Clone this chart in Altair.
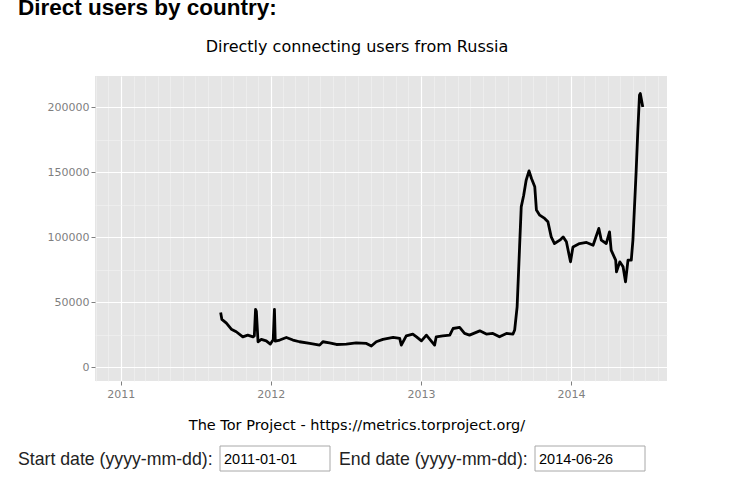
import altair as alt
import pandas as pd

# ---- text content ----
heading = "Direct users by country:"
title_text = "Directly connecting users from Russia"
caption = "The Tor Project - https://metrics.torproject.org/"
start_label = "Start date (yyyy-mm-dd):"
end_label = "End date (yyyy-mm-dd):"
start_value = "2011-01-01"
end_value = "2014-06-26"

# ---- series ----
dates = ["2011-09-01","2011-09-04","2011-09-15","2011-09-27","2011-10-09","2011-10-25",
         "2011-11-06","2011-11-19","2011-11-22","2011-11-25","2011-11-27","2011-12-01",
         "2011-12-09","2011-12-21","2011-12-31","2012-01-07","2012-01-10","2012-01-12",
         "2012-01-23","2012-02-08","2012-02-24","2012-03-11","2012-04-05","2012-04-29",
         "2012-05-07","2012-05-23","2012-06-09","2012-07-03","2012-07-27","2012-08-21",
         "2012-09-02","2012-09-14","2012-09-30","2012-10-25","2012-11-10","2012-11-14",
         "2012-11-26","2012-12-12","2012-12-21","2013-01-02","2013-01-14","2013-02-03",
         "2013-02-07","2013-02-23","2013-03-12","2013-03-20","2013-04-05","2013-04-17",
         "2013-04-29","2013-05-24","2013-06-09","2013-06-25","2013-07-11","2013-07-28",
         "2013-08-13","2013-08-17","2013-08-23","2013-08-29","2013-09-02","2013-09-08",
         "2013-09-14","2013-09-21","2013-09-27","2013-10-05","2013-10-09","2013-10-17",
         "2013-10-29","2013-11-06","2013-11-14","2013-11-22","2013-12-05","2013-12-13",
         "2013-12-21","2013-12-31","2014-01-06","2014-01-22","2014-02-08","2014-02-24",
         "2014-03-10","2014-03-16","2014-03-28","2014-04-05","2014-04-09","2014-04-20",
         "2014-04-22","2014-04-30","2014-05-08","2014-05-14","2014-05-20","2014-05-28",
         "2014-06-01","2014-06-09","2014-06-13","2014-06-17","2014-06-19","2014-06-25"]
users = [42000, 36700, 33800, 29200, 27200, 23300,
         24600, 23300, 24000, 44400, 43000, 19500,
         21300, 20200, 17700, 21000, 44400, 20000,
         20800, 22800, 20800, 19500, 18200, 16900,
         19500, 18700, 17400, 17700, 18700, 18200,
         16200, 19500, 21300, 22800, 22100, 16900,
         24000, 25400, 23300, 20200, 24600, 16900,
         23300, 24000, 24600, 29700, 30500, 25900,
         24600, 27900, 25400, 25900, 23300, 25900,
         25400, 28500, 46400, 92500, 123300, 132300,
         143800, 151000, 145100, 138700, 120800, 116900,
         114400, 111800, 100200, 95100, 97700, 100200,
         96400, 81000, 92500, 95100, 95900, 93800,
         106700, 97700, 95100, 104100, 90000, 82300,
         73300, 81000, 77200, 65600, 82300, 82300,
         97700, 151500, 182300, 209200, 210500, 200200]

# ---- axes ----
year_ticks = [2011, 2012, 2013, 2014]
y_ticks = [0, 50000, 100000, 150000, 200000]
y_minor = [25000, 75000, 125000, 175000]
x_minor = [(y, m) for y in range(2010, 2015) for m in range(2, 13)
           if (2010, 11) <= (y, m) <= (2014, 8)]

df = pd.DataFrame({"date": pd.to_datetime(dates), "users": users})

x_scale = alt.Scale(domain=[alt.DateTime(year=2010, month=10, date=30),
                            alt.DateTime(year=2014, month=8, date=23)])
y_scale = alt.Scale(domain=[-10700, 224000], nice=False, zero=False)

GREY = "#7F7F7F"
MINOR = "#F2F2F2"

# minor gridlines drawn as grid-only axes (top / right), beneath the data
grid_x = alt.Chart(df).mark_line(opacity=0).encode(
    x=alt.X("date:T", scale=x_scale,
            axis=alt.Axis(orient="top", values=[alt.DateTime(year=y, month=m, date=1) for y, m in x_minor],
                          labels=False, ticks=False, domain=False, title=None,
                          grid=True, gridColor=MINOR, gridWidth=0.6)),
    y=alt.Y("users:Q", scale=y_scale,
            axis=alt.Axis(orient="right", values=y_minor,
                          labels=False, ticks=False, domain=False, title=None,
                          grid=True, gridColor=MINOR, gridWidth=0.6)),
)

line = alt.Chart(df).mark_line(color="black", strokeWidth=2.8, strokeJoin="round").encode(
    x=alt.X("date:T", scale=x_scale,
            axis=alt.Axis(orient="bottom",
                          values=[alt.DateTime(year=y, month=1, date=1) for y in year_ticks],
                          format="%Y", title=None, domain=False,
                          tickColor=GREY, tickSize=4, tickWidth=1,
                          labelColor=GREY, labelFont="DejaVu Sans", labelFontSize=11,
                          labelPadding=3, grid=True, gridColor="white", gridWidth=1.2)),
    y=alt.Y("users:Q", scale=y_scale,
            axis=alt.Axis(orient="left", values=y_ticks, format="d", title=None, domain=False,
                          tickColor=GREY, tickSize=4, tickWidth=1,
                          labelColor=GREY, labelFont="DejaVu Sans", labelFontSize=11,
                          labelPadding=2, grid=True, gridColor="white", gridWidth=1.2)),
)


def txt(s, x, y, font, size, weight="normal", align="left", color="black"):
    return alt.Chart(pd.DataFrame({"t": [s]})).mark_text(
        font=font, fontSize=size, fontWeight=weight, align=align,
        baseline="alphabetic", color=color
    ).encode(x=alt.value(x), y=alt.value(y), text="t:N")


def box(x1, x2, y1, y2):
    return alt.Chart(pd.DataFrame({"b": [0]})).mark_rect(
        fill="white", stroke="#A8A8A8", strokeWidth=1
    ).encode(x=alt.value(x1), x2=alt.value(x2), y=alt.value(y1), y2=alt.value(y2))


layers = [
    grid_x, line,
    txt(heading, -77, -61, "Liberation Sans", 22.5, weight="bold"),
    txt(title_text, 262, -24, "DejaVu Sans", 16, align="center"),
    txt(caption, 262, 354, "DejaVu Sans", 14.5, align="center"),
    txt(start_label, -77, 389, "Liberation Sans", 17.7, color="#222222"),
    box(125, 235, 370, 395),
    txt(start_value, 129, 388, "Liberation Sans", 14.5),
    txt(end_label, 244, 389, "Liberation Sans", 17.7, color="#222222"),
    box(440, 550, 370, 395),
    txt(end_value, 444, 388, "Liberation Sans", 14.5),
]

chart = alt.layer(*layers).resolve_axis(x="independent", y="independent").properties(
    width=572, height=305,
    padding={"left": 95, "top": 76, "right": 69, "bottom": 113},
    autosize=alt.AutoSizeParams(type="none"),
    background="white",
).configure_view(fill="#E5E5E5", strokeWidth=0)

chart.save("out.html", embed_options={"renderer": "svg", "actions": False})
